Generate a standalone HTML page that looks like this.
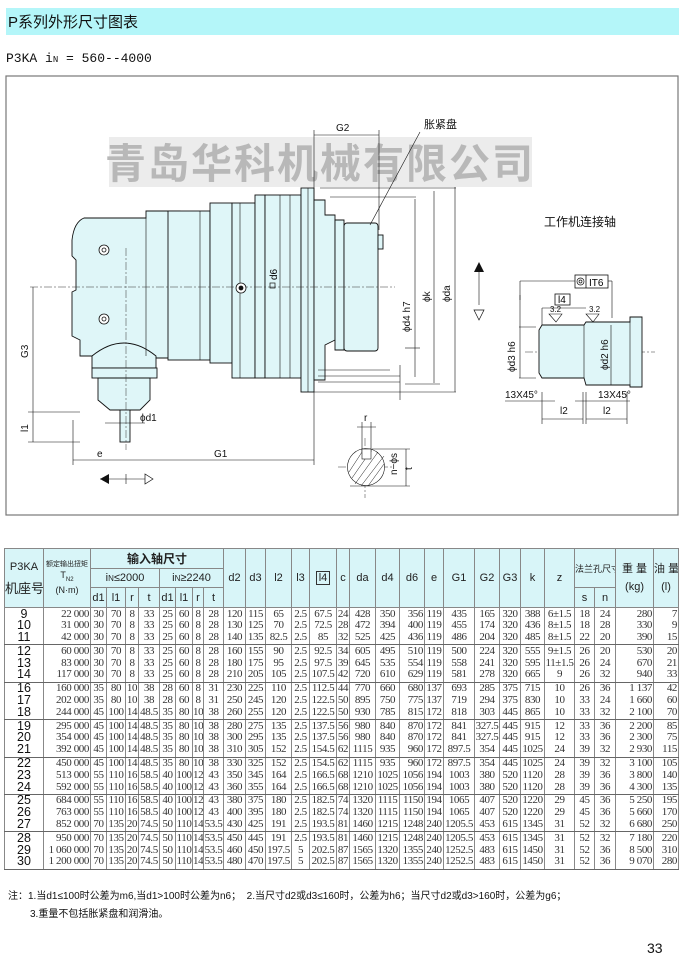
<!DOCTYPE html>
<html><head><meta charset="utf-8">
<style>
*{margin:0;padding:0;box-sizing:border-box}
body{width:680px;height:973px;background:#fff;position:relative;overflow:hidden;font-family:"Liberation Sans","Noto Sans CJK SC",sans-serif}
svg{position:absolute;left:0;top:0}
table{position:absolute;left:4px;top:548px;width:674px;border-collapse:collapse;table-layout:fixed;border:1.5px solid #555}
td{border:1px solid #888;text-align:center;vertical-align:middle;padding:0;overflow:hidden;white-space:nowrap}
thead td{background:#d8f5f8;font-size:11px;color:#222}
tbody td{font-family:"Liberation Serif",serif;font-size:11px;line-height:11.8px;height:37.4px;color:#333;letter-spacing:-0.4px;border-top:1.5px solid #666;border-bottom:1.5px solid #666}
tbody td.n{font-family:"Liberation Sans",sans-serif;font-size:12.5px;color:#111;letter-spacing:0}
tbody td.r{text-align:right;padding-right:1px}
.note{position:absolute;font-size:10px;color:#111;font-family:"Liberation Sans","Noto Sans CJK SC",sans-serif}
</style></head><body>
<svg width="680" height="973" viewBox="0 0 680 973" font-family="Liberation Sans, Noto Sans CJK SC, sans-serif">
<rect x="6" y="8" width="673" height="27" fill="#b4f6f9"/>
<text x="8" y="27" font-size="15" fill="#111">P系列外形尺寸图表</text>
<text x="6" y="62" font-size="13" font-family="Liberation Mono, monospace" fill="#111">P3KA   i<tspan font-size="9">N</tspan> = 560--4000</text>
<rect x="6" y="76" width="672" height="439" fill="#fff" stroke="#777" stroke-width="1.2"/>
<rect x="109" y="137" width="423" height="50" fill="#ececec"/>
<text x="320" y="178" font-size="41" font-weight="bold" fill="#b8b8b8" text-anchor="middle" letter-spacing="2">青岛华科机械有限公司</text>
<g stroke="#111" stroke-width="0.9" fill="#dff6f8">
<path d="M84 218 L146 218 L146 211 L180 211 L180 358 L150 358 Q124 335 92 356 L80 356 L80 340 L72 336 L72 292 L76 290 L76 260 L72 256 L72 240 Q74 222 84 218 Z"/>
<rect x="168" y="211" width="42" height="149"/>
<rect x="210" y="203" width="22" height="160"/>
<rect x="232" y="203" width="23" height="175"/>
<rect x="255" y="195" width="10" height="183"/>
<rect x="265" y="195" width="36" height="183"/>
<rect x="301" y="188" width="13" height="204"/>
<path d="M314 200 L325 200 L325 215 L335 215 L335 340 L325 345 L325 380 L314 380 Z"/>
<path d="M335 220 L344 220 L344 350 L335 350 Z"/>
<rect x="344" y="223" width="34" height="128" rx="3"/>
<rect x="378" y="235" width="5" height="14"/>
<path d="M92 356 Q124 330 156 356 L156 368 L92 368 Z"/>
<rect x="92" y="368" width="65" height="10"/>
<path d="M98 378 L150 378 L150 400 L140 410 L110 410 L98 400 Z"/>
<rect x="120" y="410" width="10" height="32"/>
</g>
<g stroke="#111" stroke-width="0.6" fill="none">
<line x1="146" y1="218" x2="146" y2="356"/><line x1="200" y1="211" x2="200" y2="360"/>
<line x1="240" y1="203" x2="240" y2="378"/><line x1="280" y1="195" x2="280" y2="378"/>
<line x1="290" y1="195" x2="290" y2="378"/><line x1="308" y1="188" x2="308" y2="392"/>
<line x1="318" y1="370" x2="390" y2="370"/><line x1="318" y1="376" x2="400" y2="376"/><line x1="318" y1="382" x2="400" y2="382"/>
<line x1="314" y1="392" x2="456" y2="392"/><line x1="320" y1="188" x2="456" y2="188"/><line x1="330" y1="197" x2="416" y2="197"/>
<line x1="405" y1="384" x2="440" y2="384"/><line x1="405" y1="348" x2="420" y2="348"/>
</g>
<g stroke="#333" stroke-width="0.5" stroke-dasharray="8,2,2,2" fill="none">
<line x1="30" y1="287" x2="395" y2="287"/><line x1="126" y1="248" x2="126" y2="450"/>
<line x1="525" y1="352" x2="655" y2="352"/><line x1="365" y1="438" x2="365" y2="498"/><line x1="338" y1="467" x2="394" y2="467"/>
</g>
<g fill="#fff" stroke="#111" stroke-width="0.8">
<circle cx="104" cy="250" r="5"/><circle cx="104" cy="250" r="2"/>
<circle cx="104" cy="319" r="5"/><circle cx="104" cy="319" r="2"/>
<circle cx="241" cy="288" r="5"/><circle cx="241" cy="288" r="2" fill="#111"/>
</g>
<rect x="270" y="283" width="5" height="5" fill="none" stroke="#111" stroke-width="0.7"/>
<text x="277" y="280" font-size="10" transform="rotate(-90 277 280)">d6</text>
<g stroke="#111" stroke-width="0.6" fill="none">
<line x1="33" y1="287" x2="33" y2="442"/><line x1="28" y1="412" x2="80" y2="412"/><line x1="28" y1="442" x2="80" y2="442"/>
<line x1="73" y1="420" x2="73" y2="465"/><line x1="314" y1="392" x2="314" y2="465"/>
<line x1="73" y1="460" x2="314" y2="460"/>
<line x1="105" y1="423" x2="145" y2="423"/>
<line x1="415" y1="199" x2="415" y2="377"/><line x1="434" y1="191" x2="434" y2="383"/><line x1="455" y1="187" x2="455" y2="392"/>
<line x1="314" y1="135" x2="379" y2="135"/><line x1="314" y1="130" x2="314" y2="200"/><line x1="379" y1="130" x2="379" y2="230"/>
<line x1="420" y1="132" x2="370" y2="225"/>
<line x1="400" y1="365" x2="400" y2="400"/><line x1="479" y1="268" x2="479" y2="305"/>
<line x1="100" y1="479" x2="153" y2="479"/><line x1="126" y1="474" x2="126" y2="484"/>
<path d="M542 325 L584 325 L586 322 L630 322 L630 317 L642 317 L642 387 L630 387 L630 385 L586 385 L584 378 L542 378 L539 373 L539 330 Z" fill="#dff6f8" stroke-width="0.9"/>
<line x1="584" y1="325" x2="584" y2="378"/><line x1="630" y1="322" x2="630" y2="385"/>
<line x1="519" y1="327" x2="536" y2="327"/><line x1="519" y1="378" x2="536" y2="378"/><line x1="520" y1="295" x2="520" y2="378"/>
<line x1="520" y1="281" x2="575" y2="281"/><line x1="520" y1="281" x2="520" y2="300"/><line x1="608" y1="281" x2="612" y2="281"/><line x1="612" y1="281" x2="612" y2="318"/>
<line x1="611" y1="325" x2="611" y2="385"/>
<line x1="542" y1="308" x2="586" y2="308"/><line x1="542" y1="308" x2="542" y2="325"/>
<line x1="542" y1="392" x2="542" y2="424"/><line x1="583" y1="392" x2="583" y2="424"/><line x1="586" y1="392" x2="586" y2="424"/><line x1="627" y1="392" x2="627" y2="424"/>
<line x1="542" y1="419" x2="583" y2="419"/><line x1="586" y1="419" x2="627" y2="419"/>
<line x1="505" y1="401" x2="555" y2="401"/><line x1="575" y1="401" x2="630" y2="401"/>
<path d="M549 314 L556 322 L562 314 Z M586 314 L593 322 L599 314 Z"/>
<circle cx="366" cy="467" r="18.5" fill="#fff"/>
<line x1="357" y1="427" x2="376" y2="427"/><line x1="362" y1="422" x2="362" y2="452"/><line x1="371" y1="422" x2="371" y2="452"/>
<line x1="372" y1="449" x2="410" y2="449"/><line x1="350" y1="486" x2="410" y2="486"/><line x1="406" y1="449" x2="406" y2="486"/>
</g>
<g stroke="#111" stroke-width="0.5">
<line x1="352" y1="478" x2="370" y2="452"/><line x1="355" y1="484" x2="378" y2="452"/><line x1="361" y1="486" x2="384" y2="456"/><line x1="368" y1="486" x2="384" y2="464"/><line x1="349" y1="472" x2="362" y2="452"/>
</g>
<rect x="362" y="449" width="9" height="10" fill="#fff" stroke="#111" stroke-width="0.6"/>
<path d="M100 479 L109 474 L109 484 Z" fill="#111"/><path d="M153 479 L145 474 L145 484 Z" fill="#fff" stroke="#111" stroke-width="0.7"/>
<path d="M479 262 L474 272 L484 272 Z" fill="#111"/><path d="M479 320 L474 310 L484 310 Z" fill="#fff" stroke="#111" stroke-width="0.7"/>
<rect x="575" y="275" width="33" height="13" fill="#fff" stroke="#111" stroke-width="0.8"/><line x1="586" y1="275" x2="586" y2="288" stroke="#111" stroke-width="0.8"/>
<circle cx="580.5" cy="281.5" r="3.5" fill="none" stroke="#111" stroke-width="0.7"/><circle cx="580.5" cy="281.5" r="1.5" fill="none" stroke="#111" stroke-width="0.7"/>
<text x="589" y="286" font-size="10">IT6</text>
<rect x="555" y="294" width="15" height="11" fill="#fff" stroke="#111" stroke-width="0.8"/><text x="558" y="303" font-size="10">l4</text>
<g font-size="10" fill="#111">
<text x="336" y="131">G2</text>
<text x="424" y="128" font-size="11">胀紧盘</text>
<text x="544" y="226" font-size="12">工作机连接轴</text>
<text x="28" y="358" transform="rotate(-90 28 358)">G3</text>
<text x="28" y="432" transform="rotate(-90 28 432)">l1</text>
<text x="140" y="421">ϕd1</text>
<text x="97" y="457">e</text>
<text x="214" y="457">G1</text>
<text x="410" y="332" transform="rotate(-90 410 332)">ϕd4 h7</text>
<text x="430" y="302" transform="rotate(-90 430 302)">ϕk</text>
<text x="450" y="302" transform="rotate(-90 450 302)">ϕda</text>
<text x="397" y="475" transform="rotate(-90 397 475)">n−ϕs</text>
<text x="364" y="421">r</text>
<text x="412" y="470" transform="rotate(-90 412 470)">t</text>
<text x="515" y="372" transform="rotate(-90 515 372)">ϕd3 h6</text>
<text x="608" y="370" transform="rotate(-90 608 370)">ϕd2 h6</text>
<text x="505" y="398">13X45°</text><text x="598" y="398">13X45°</text>
<text x="560" y="414">l2</text><text x="603" y="414">l2</text>
<text x="550" y="312" font-size="8">3.2</text><text x="589" y="312" font-size="8">3.2</text>
</g>
<text x="647" y="953" font-size="14" fill="#111">33</text>
</svg>
<table>
<colgroup><col style="width:39px"><col style="width:47px"><col style="width:16px"><col style="width:19px"><col style="width:13px"><col style="width:21px"><col style="width:16px"><col style="width:17px"><col style="width:11px"><col style="width:20px"><col style="width:22px"><col style="width:20px"><col style="width:26px"><col style="width:18px"><col style="width:27px"><col style="width:13px"><col style="width:26px"><col style="width:24px"><col style="width:25px"><col style="width:19px"><col style="width:31px"><col style="width:25px"><col style="width:21px"><col style="width:24px"><col style="width:30px"><col style="width:20px"><col style="width:21px"><col style="width:38px"><col style="width:25px"></colgroup>
<thead>
<tr style="height:20px"><td rowspan="3" style="font-size:11px;line-height:22px">P3KA<br><span style="font-size:13px">机座号</span></td><td rowspan="3" style="font-size:7px;line-height:11px">额定输出扭矩<br><span style="font-size:9px">T<sub style="font-size:6px">N2</sub><br>(N·m)</span></td><td colspan="8" style="font-size:12px;font-weight:bold">输入轴尺寸</td><td rowspan="3">d2</td><td rowspan="3">d3</td><td rowspan="3">l2</td><td rowspan="3">l3</td><td rowspan="3"><span style="border:1px solid #333;padding:0 2px">l4</span></td><td rowspan="3">c</td><td rowspan="3">da</td><td rowspan="3">d4</td><td rowspan="3">d6</td><td rowspan="3">e</td><td rowspan="3">G1</td><td rowspan="3">G2</td><td rowspan="3">G3</td><td rowspan="3">k</td><td rowspan="3">z</td><td colspan="2" rowspan="2" style="font-size:9px">法兰孔尺寸</td><td rowspan="3" style="line-height:18px">重 量<br>(kg)</td><td rowspan="3" style="line-height:18px">油 量<br>(l)</td></tr>
<tr style="height:19px"><td colspan="4">i<span style="font-size:8px">N</span>≤2000</td><td colspan="4">i<span style="font-size:8px">N</span>≥2240</td></tr>
<tr style="height:20px"><td>d1</td><td>l1</td><td>r</td><td>t</td><td>d1</td><td>l1</td><td>r</td><td>t</td><td>s</td><td>n</td></tr>
</thead>
<tbody>
<tr><td class="n">9<br>10<br>11</td><td class="r">22 000<br>31 000<br>42 000</td><td>30<br>30<br>30</td><td>70<br>70<br>70</td><td>8<br>8<br>8</td><td>33<br>33<br>33</td><td>25<br>25<br>25</td><td>60<br>60<br>60</td><td>8<br>8<br>8</td><td>28<br>28<br>28</td><td>120<br>130<br>140</td><td>115<br>125<br>135</td><td>65<br>70<br>82.5</td><td>2.5<br>2.5<br>2.5</td><td>67.5<br>72.5<br>85</td><td>24<br>28<br>32</td><td>428<br>472<br>525</td><td>350<br>394<br>425</td><td class="r">356<br>400<br>436</td><td>119<br>119<br>119</td><td>435<br>455<br>486</td><td>165<br>174<br>204</td><td>320<br>320<br>320</td><td>388<br>436<br>485</td><td>6±1.5<br>8±1.5<br>8±1.5</td><td>18<br>18<br>22</td><td>24<br>28<br>20</td><td class="r">280<br>330<br>390</td><td class="r">7<br>9<br>15</td></tr>
<tr><td class="n">12<br>13<br>14</td><td class="r">60 000<br>83 000<br>117 000</td><td>30<br>30<br>30</td><td>70<br>70<br>70</td><td>8<br>8<br>8</td><td>33<br>33<br>33</td><td>25<br>25<br>25</td><td>60<br>60<br>60</td><td>8<br>8<br>8</td><td>28<br>28<br>28</td><td>160<br>180<br>210</td><td>155<br>175<br>205</td><td>90<br>95<br>105</td><td>2.5<br>2.5<br>2.5</td><td>92.5<br>97.5<br>107.5</td><td>34<br>39<br>42</td><td>605<br>645<br>720</td><td>495<br>535<br>610</td><td class="r">510<br>554<br>629</td><td>119<br>119<br>119</td><td>500<br>558<br>581</td><td>224<br>241<br>278</td><td>320<br>320<br>320</td><td>555<br>595<br>665</td><td>9±1.5<br>11±1.5<br>9</td><td>26<br>26<br>26</td><td>20<br>24<br>32</td><td class="r">530<br>670<br>940</td><td class="r">20<br>21<br>33</td></tr>
<tr><td class="n">16<br>17<br>18</td><td class="r">160 000<br>202 000<br>244 000</td><td>35<br>35<br>45</td><td>80<br>80<br>100</td><td>10<br>10<br>14</td><td>38<br>38<br>48.5</td><td>28<br>28<br>35</td><td>60<br>60<br>80</td><td>8<br>8<br>10</td><td>31<br>31<br>38</td><td>230<br>250<br>260</td><td>225<br>245<br>255</td><td>110<br>120<br>120</td><td>2.5<br>2.5<br>2.5</td><td>112.5<br>122.5<br>122.5</td><td>44<br>50<br>50</td><td>770<br>895<br>930</td><td>660<br>750<br>785</td><td class="r">680<br>775<br>815</td><td>137<br>137<br>172</td><td>693<br>719<br>818</td><td>285<br>294<br>303</td><td>375<br>375<br>445</td><td>715<br>830<br>865</td><td>10<br>10<br>10</td><td>26<br>33<br>33</td><td>36<br>24<br>32</td><td class="r">1 137<br>1 660<br>2 100</td><td class="r">42<br>60<br>70</td></tr>
<tr><td class="n">19<br>20<br>21</td><td class="r">295 000<br>354 000<br>392 000</td><td>45<br>45<br>45</td><td>100<br>100<br>100</td><td>14<br>14<br>14</td><td>48.5<br>48.5<br>48.5</td><td>35<br>35<br>35</td><td>80<br>80<br>80</td><td>10<br>10<br>10</td><td>38<br>38<br>38</td><td>280<br>300<br>310</td><td>275<br>295<br>305</td><td>135<br>135<br>152</td><td>2.5<br>2.5<br>2.5</td><td>137.5<br>137.5<br>154.5</td><td>56<br>56<br>62</td><td>980<br>980<br>1115</td><td>840<br>840<br>935</td><td class="r">870<br>870<br>960</td><td>172<br>172<br>172</td><td>841<br>841<br>897.5</td><td>327.5<br>327.5<br>354</td><td>445<br>445<br>445</td><td>915<br>915<br>1025</td><td>12<br>12<br>24</td><td>33<br>33<br>39</td><td>36<br>36<br>32</td><td class="r">2 200<br>2 300<br>2 930</td><td class="r">85<br>75<br>115</td></tr>
<tr><td class="n">22<br>23<br>24</td><td class="r">450 000<br>513 000<br>592 000</td><td>45<br>55<br>55</td><td>100<br>110<br>110</td><td>14<br>16<br>16</td><td>48.5<br>58.5<br>58.5</td><td>35<br>40<br>40</td><td>80<br>100<br>100</td><td>10<br>12<br>12</td><td>38<br>43<br>43</td><td>330<br>350<br>360</td><td>325<br>345<br>355</td><td>152<br>164<br>164</td><td>2.5<br>2.5<br>2.5</td><td>154.5<br>166.5<br>166.5</td><td>62<br>68<br>68</td><td>1115<br>1210<br>1210</td><td>935<br>1025<br>1025</td><td class="r">960<br>1056<br>1056</td><td>172<br>194<br>194</td><td>897.5<br>1003<br>1003</td><td>354<br>380<br>380</td><td>445<br>520<br>520</td><td>1025<br>1120<br>1120</td><td>24<br>28<br>28</td><td>39<br>39<br>39</td><td>32<br>36<br>36</td><td class="r">3 100<br>3 800<br>4 300</td><td class="r">105<br>140<br>135</td></tr>
<tr><td class="n">25<br>26<br>27</td><td class="r">684 000<br>763 000<br>852 000</td><td>55<br>55<br>70</td><td>110<br>110<br>135</td><td>16<br>16<br>20</td><td>58.5<br>58.5<br>74.5</td><td>40<br>40<br>50</td><td>100<br>100<br>110</td><td>12<br>12<br>14</td><td>43<br>43<br>53.5</td><td>380<br>400<br>430</td><td>375<br>395<br>425</td><td>180<br>180<br>191</td><td>2.5<br>2.5<br>2.5</td><td>182.5<br>182.5<br>193.5</td><td>74<br>74<br>81</td><td>1320<br>1320<br>1460</td><td>1115<br>1115<br>1215</td><td class="r">1150<br>1150<br>1248</td><td>194<br>194<br>240</td><td>1065<br>1065<br>1205.5</td><td>407<br>407<br>453</td><td>520<br>520<br>615</td><td>1220<br>1220<br>1345</td><td>29<br>29<br>31</td><td>45<br>45<br>52</td><td>36<br>36<br>32</td><td class="r">5 250<br>5 660<br>6 680</td><td class="r">195<br>170<br>250</td></tr>
<tr><td class="n">28<br>29<br>30</td><td class="r">950 000<br>1 060 000<br>1 200 000</td><td>70<br>70<br>70</td><td>135<br>135<br>135</td><td>20<br>20<br>20</td><td>74.5<br>74.5<br>74.5</td><td>50<br>50<br>50</td><td>110<br>110<br>110</td><td>14<br>14<br>14</td><td>53.5<br>53.5<br>53.5</td><td>450<br>460<br>480</td><td>445<br>450<br>470</td><td>191<br>197.5<br>197.5</td><td>2.5<br>5<br>5</td><td>193.5<br>202.5<br>202.5</td><td>81<br>87<br>87</td><td>1460<br>1565<br>1565</td><td>1215<br>1320<br>1320</td><td class="r">1248<br>1355<br>1355</td><td>240<br>240<br>240</td><td>1205.5<br>1252.5<br>1252.5</td><td>453<br>483<br>483</td><td>615<br>615<br>615</td><td>1345<br>1450<br>1450</td><td>31<br>31<br>31</td><td>52<br>52<br>52</td><td>32<br>36<br>36</td><td class="r">7 180<br>8 500<br>9 070</td><td class="r">220<br>310<br>280</td></tr>
</tbody></table>
<div class="note" style="left:8px;top:887px">注：1.当d1≤100时公差为m6,当d1&gt;100时公差为n6；&nbsp; 2.当尺寸d2或d3≤160时，公差为h6；当尺寸d2或d3&gt;160时，公差为g6；</div>
<div class="note" style="left:30px;top:905px">3.重量不包括胀紧盘和润滑油。</div>
</body></html>
